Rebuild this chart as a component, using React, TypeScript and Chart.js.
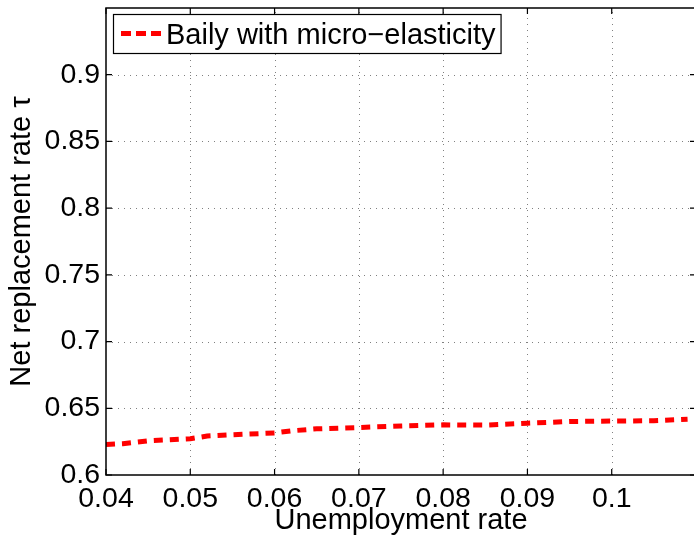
import React, { useEffect, useRef } from 'react';
import { Chart, registerables } from 'chart.js';

Chart.register(...registerables);

const unemploymentRate = [0.04, 0.042, 0.045, 0.05, 0.052, 0.055, 0.06, 0.062, 0.065, 0.07, 0.075, 0.08, 0.085, 0.09, 0.095, 0.1, 0.105, 0.109];
const replacementRate = [0.6228, 0.6235, 0.6256, 0.6272, 0.6292, 0.6302, 0.6315, 0.6331, 0.6346, 0.6356, 0.6367, 0.6376, 0.6374, 0.6388, 0.6401, 0.6404, 0.6407, 0.6418];
const seriesLabel = 'Baily with micro\u2212elasticity';
const xTitle = 'Unemployment rate';
const yTitle = 'Net replacement rate \u03c4';
const xLastTick = 0.1;
const yLastTick = 0.9;

const FONT = "'Liberation Sans', Arial, Helvetica, sans-serif";

const fmt = (v: number) => String(Number(v.toFixed(3)));

const framePlugin = {
  id: 'matlabFrame',
  beforeDatasetsDraw(chart: any) {
    const { ctx, chartArea, scales } = chart;
    const { left, right, top, bottom } = chartArea;
    ctx.save();
    ctx.strokeStyle = '#808080';
    ctx.lineWidth = 1;
    ctx.setLineDash([1, 5]);
    scales.x.ticks.forEach((t: any) => {
      const px = Math.round(scales.x.getPixelForValue(t.value)) + 0.5;
      if (px <= left + 2 || px >= right - 2) return;
      ctx.beginPath();
      ctx.moveTo(px, bottom);
      ctx.lineTo(px, top);
      ctx.stroke();
    });
    scales.y.ticks.forEach((t: any) => {
      const py = Math.round(scales.y.getPixelForValue(t.value)) + 0.5;
      if (py <= top + 2 || py >= bottom - 2) return;
      ctx.beginPath();
      ctx.moveTo(left, py);
      ctx.lineTo(right, py);
      ctx.stroke();
    });
    ctx.restore();
  },
  afterDraw(chart: any) {
    const { ctx, chartArea, scales } = chart;
    const { left, right, top, bottom } = chartArea;
    ctx.save();
    ctx.strokeStyle = '#000';
    ctx.lineWidth = 1.5;
    ctx.setLineDash([]);
    ctx.strokeRect(left, top, right - left, bottom - top);
    const tl = 6;
    ctx.lineWidth = 1.2;
    scales.x.ticks.forEach((t: any) => {
      const px = scales.x.getPixelForValue(t.value);
      ctx.beginPath();
      ctx.moveTo(px, bottom);
      ctx.lineTo(px, bottom - tl);
      ctx.moveTo(px, top);
      ctx.lineTo(px, top + tl);
      ctx.stroke();
    });
    scales.y.ticks.forEach((t: any) => {
      const py = scales.y.getPixelForValue(t.value);
      ctx.beginPath();
      ctx.moveTo(left, py);
      ctx.lineTo(left + tl, py);
      ctx.moveTo(right, py);
      ctx.lineTo(right - tl, py);
      ctx.stroke();
    });

    // legend
    const ds = chart.data.datasets[0];
    ctx.font = `29px ${FONT}`;
    const tw = ctx.measureText(ds.label).width;
    const bx = left + 7;
    const by = top + 6;
    const bh = 39;
    const textX = bx + 53;
    const bw = textX - bx + tw + 5;
    ctx.fillStyle = '#fff';
    ctx.fillRect(bx, by, bw, bh);
    ctx.strokeStyle = '#000';
    ctx.lineWidth = 1.2;
    ctx.strokeRect(bx + 0.5, by + 0.5, bw, bh);
    ctx.strokeStyle = ds.borderColor;
    ctx.lineWidth = 5;
    ctx.setLineDash([10, 5]);
    ctx.beginPath();
    ctx.moveTo(bx + 8, by + bh / 2);
    ctx.lineTo(bx + 48, by + bh / 2);
    ctx.stroke();
    ctx.setLineDash([]);
    ctx.fillStyle = '#000';
    ctx.textBaseline = 'alphabetic';
    ctx.textAlign = 'left';
    ctx.fillText(ds.label, textX, by + 30);
    ctx.restore();
  },
};

export default function App() {
  const ref = useRef<HTMLCanvasElement | null>(null);

  useEffect(() => {
    if (!ref.current) return;
    Chart.defaults.font.family = FONT;
    const chart = new Chart(ref.current, {
      type: 'line',
      data: {
        datasets: [
          {
            label: seriesLabel,
            data: unemploymentRate.map((x, i) => ({ x, y: replacementRate[i] })),
            borderColor: '#ff0000',
            borderWidth: 5,
            borderDash: [9, 7],
            pointRadius: 0,
            tension: 0,
            fill: false,
          },
        ],
      },
      options: {
        animation: false,
        responsive: false,
        devicePixelRatio: 1,
        layout: { padding: { top: 8, right: 4, left: 0, bottom: 0 } },
        plugins: { legend: { display: false }, tooltip: { enabled: false } },
        scales: {
          x: {
            type: 'linear',
            min: 0.04,
            max: 0.11,
            grid: { display: false },
            border: { display: false },
            ticks: {
              stepSize: 0.01,
              color: '#000',
              font: { size: 28.5 },
              padding: -1,
              maxRotation: 0,
              autoSkip: false,
              callback: (v: any) => fmt(Number(v)),
            },
            afterBuildTicks: (s: any) => {
              s.ticks = s.ticks.filter((t: any) => t.value <= xLastTick + 1e-6);
            },
            afterFit: (s: any) => {
              s.height = 63;
              s.paddingLeft = 0;
              s.paddingRight = 0;
            },
            title: { display: true, text: xTitle, color: '#000', font: { size: 29 }, padding: { top: 0, bottom: 0 } },
          },
          y: {
            type: 'linear',
            min: 0.6,
            max: 0.95,
            grid: { display: false },
            border: { display: false },
            ticks: {
              stepSize: 0.05,
              color: '#000',
              font: { size: 28.5 },
              padding: -2,
              autoSkip: false,
              callback: (v: any) => fmt(Number(v)),
            },
            afterBuildTicks: (s: any) => {
              s.ticks = s.ticks.filter((t: any) => t.value <= yLastTick + 1e-6);
            },
            afterFit: (s: any) => {
              s.width = 106;
              s.paddingTop = 0;
              s.paddingBottom = 0;
            },
            title: { display: true, text: yTitle, color: '#000', font: { size: 29 }, padding: { top: 5, bottom: 0 } },
          },
        },
      },
      plugins: [framePlugin],
    });
    return () => chart.destroy();
  }, []);

  return (
    <div style={{ position: 'absolute', left: 0, top: 0, width: 694, height: 538, overflow: 'hidden', background: '#fff' }}>
      <canvas ref={ref} width={700} height={538} style={{ width: 700, height: 538, display: 'block' }} />
    </div>
  );
}
